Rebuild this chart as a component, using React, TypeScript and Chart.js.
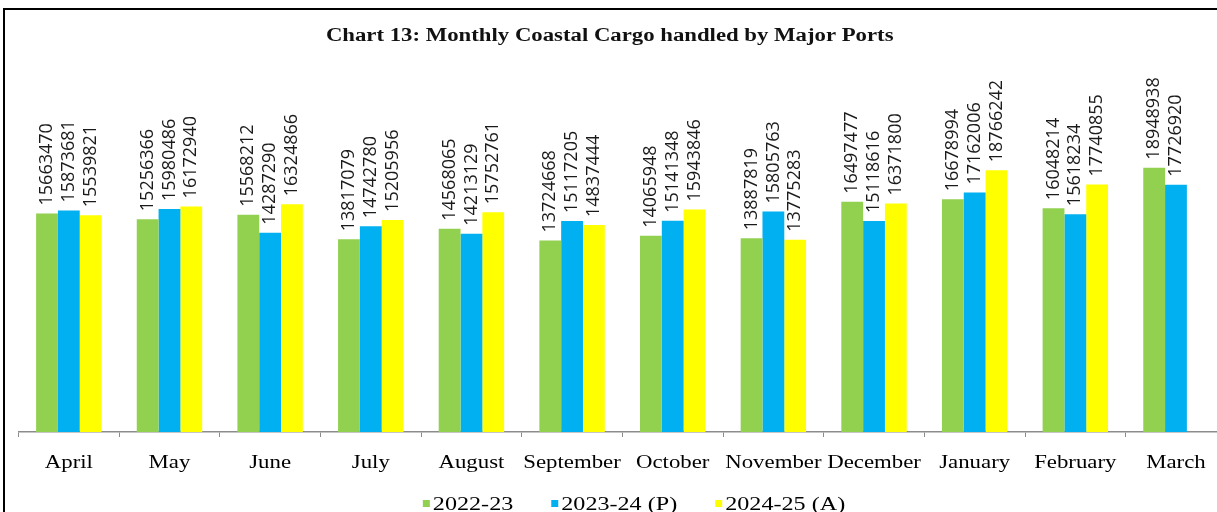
import React, { useEffect, useRef } from "react";
import { Chart, registerables } from "chart.js";

Chart.register(...registerables);

const TITLE = "Chart 13: Monthly Coastal Cargo handled by Major Ports";
const categories = ["April", "May", "June", "July", "August", "September", "October", "November", "December", "January", "February", "March"];
const seriesNames = ["2022-23", "2023-24 (P)", "2024-25 (A)"];
const s2022 = [15663470, 15256366, 15568212, 13817079, 14568065, 13724668, 14065948, 13887819, 16497477, 16678994, 16048214, 18948938];
const s2023 = [15873681, 15980486, 14287290, 14742780, 14213129, 15117205, 15141348, 15805763, 15118616, 17162006, 15618234, 17726920];
const s2024 = [15539821, 16172940, 16324866, 15205956, 15752761, 14837444, 15943846, 13775283, 16371800, 18766242, 17740855, null];
const colors = ["#92D050", "#00B0F0", "#FFFF00"];

const W = 1240;
const H = 512;

const drawPlugin = {
  id: "customText",
  afterDraw(chart: any) {
    const ctx: CanvasRenderingContext2D = chart.ctx;
    const xs = chart.scales.x;
    ctx.save();
    // Title
    ctx.fillStyle = "#111111";
    ctx.font = 'bold 18.5px "Liberation Serif"';
    ctx.textAlign = "center";
    ctx.textBaseline = "alphabetic";
    ctx.save();
    ctx.translate(609.7, 41);
    ctx.scale(1.23, 1);
    ctx.fillText(TITLE, 0, 0);
    ctx.restore();

    // X labels
    ctx.font = '19px "Liberation Serif"';
    ctx.fillStyle = "#000000";
    categories.forEach((c, i) => {
      const x = xs.getPixelForValue(i);
      ctx.save();
      ctx.translate(x, 468);
      ctx.scale(1.2, 1);
      ctx.fillText(c, 0, 0);
      ctx.restore();
    });

    // Data labels
    ctx.font = '18px "Open Sans"';
    ctx.fillStyle = "#1a1a1a";
    ctx.textAlign = "left";
    ctx.textBaseline = "middle";
    chart.data.datasets.forEach((ds: any, di: number) => {
      const meta = chart.getDatasetMeta(di);
      meta.data.forEach((el: any, i: number) => {
        const v = ds.data[i];
        if (v === null || v === undefined) return;
        ctx.save();
        ctx.translate(el.x, el.y - 8);
        ctx.rotate(-Math.PI / 2);
        ctx.fillText(String(v), 0, 0);
        ctx.restore();
      });
    });

    // Legend
    const sx = 1.27;
    ctx.font = '19px "Liberation Serif"';
    ctx.textBaseline = "alphabetic";
    ctx.textAlign = "left";
    const sq = 7;
    const gapText = 3;
    const gapItem = 38;
    const widths = seriesNames.map((n) => ctx.measureText(n).width * sx);
    const total = widths.reduce((a, b) => a + b, 0) + seriesNames.length * (sq + gapText) + gapItem * (seriesNames.length - 1);
    let x = 634 - total / 2;
    seriesNames.forEach((n, i) => {
      ctx.fillStyle = colors[i];
      ctx.fillRect(x, 500, sq, sq);
      x += sq + gapText;
      ctx.fillStyle = "#000000";
      ctx.save();
      ctx.translate(x, 510);
      ctx.scale(sx, 1);
      ctx.fillText(n, 0, 0);
      ctx.restore();
      x += widths[i] + gapItem;
    });
    ctx.restore();
  },
};

export default function App() {
  const canvasRef = useRef<HTMLCanvasElement>(null);
  useEffect(() => {
    const canvas = canvasRef.current;
    if (!canvas) return;
    const chart = new Chart(canvas, {
      type: "bar",
      data: {
        labels: categories,
        datasets: [s2022, s2023, s2024].map((d, i) => ({
          label: seriesNames[i],
          data: d,
          backgroundColor: colors[i],
          borderWidth: 0,
          categoryPercentage: 0.65,
          barPercentage: 1.0,
        })),
      },
      options: {
        responsive: false,
        animation: false,
        devicePixelRatio: 1,
        layout: { padding: { left: 18.5, right: 13.7, top: 83.25, bottom: 75 } },
        plugins: {
          legend: { display: false },
          title: { display: false },
          tooltip: { enabled: false },
        },
        scales: {
          x: {
            offset: true,
            grid: {
              display: true,
              offset: true,
              drawOnChartArea: false,
              drawTicks: true,
              tickLength: 5,
              color: "#8c8c8c",
              lineWidth: 1,
            },
            border: { display: true, color: "#8c8c8c", width: 1.5 },
            ticks: { display: false },
          },
          y: { display: false, min: 0, max: 25000000 },
        },
      },
      plugins: [drawPlugin],
    } as any);
    return () => chart.destroy();
  }, []);

  return (
    <div style={{ position: "fixed", left: 0, top: 0, width: 1217, height: 512, overflow: "hidden", background: "#fff" }}>
      <div
        style={{
          position: "absolute",
          left: 3,
          top: 8,
          width: 1262,
          height: 560,
          border: "2px solid #000",
          boxSizing: "border-box",
        }}
      />
      <canvas ref={canvasRef} width={W} height={H} style={{ position: "absolute", left: 0, top: 0, width: W, height: H }} />
    </div>
  );
}
